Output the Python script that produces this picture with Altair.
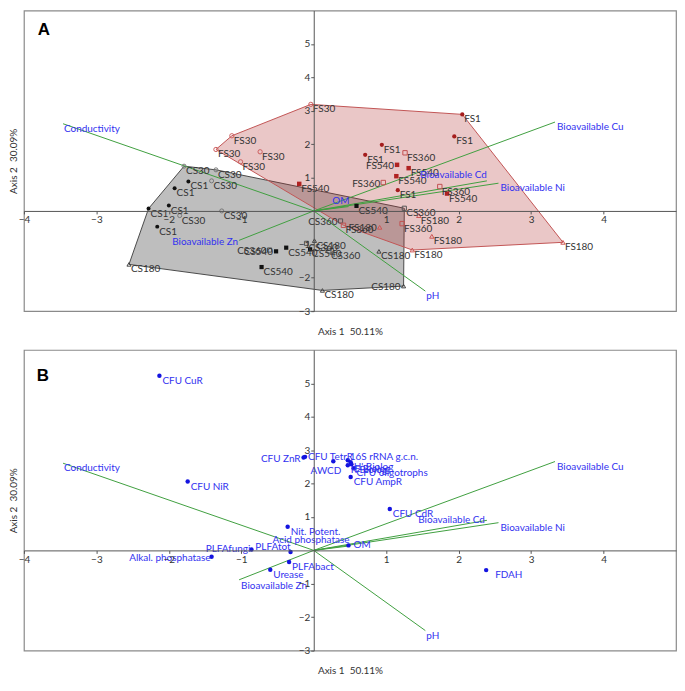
import altair as alt
import pandas as pd

# ---------------- Panel A: sample scores ----------------
CS1_X = [-1.73, -1.92, -2.00, -2.28, -2.16]
CS1_Y = [0.88, 0.68, 0.16, 0.07, -0.47]
CS30_X = [-1.79, -1.35, -1.41, -1.27, -1.85]
CS30_Y = [1.34, 1.23, 0.90, 0.00, -0.14]
CS180_X = [-2.55, 0.01, 0.90, 1.24, 0.12]
CS180_Y = [-1.60, -0.89, -1.21, -2.25, -2.38]
CS360_X = [-0.10, -0.61, 0.21, 0.37, 1.25]
CS360_Y = [-0.97, -1.17, -1.20, -0.30, 0.08]
CS540_X = [0.59, -0.38, -0.52, -0.72, -0.05]
CS540_Y = [0.15, -1.10, -1.21, -1.68, -1.15]
FS1_X = [2.05, 1.94, 0.94, 0.71, 1.16]
FS1_Y = [2.89, 2.23, 1.98, 1.68, 0.62]
FS30_X = [-0.04, -1.13, -1.35, -0.74, -1.01]
FS30_Y = [3.19, 2.25, 1.84, 1.77, 1.47]
FS180_X = [1.45, 0.91, 1.63, 1.36, 3.44]
FS180_Y = [-0.14, -0.49, -0.76, -1.17, -0.94]
FS360_X = [1.26, 0.96, 1.74, 1.22, 0.41]
FS360_Y = [1.74, 0.85, 0.73, -0.38, -0.43]
FS540_X = [1.15, 1.31, 1.14, 1.84, -0.20]
FS540_Y = [1.38, 1.28, 1.04, 0.52, 0.81]

TREATMENTS = ["CS1", "CS30", "CS180", "CS360", "CS540",
              "FS1", "FS30", "FS180", "FS360", "FS540"]
SERIES = {
    "CS1": (CS1_X, CS1_Y), "CS30": (CS30_X, CS30_Y), "CS180": (CS180_X, CS180_Y),
    "CS360": (CS360_X, CS360_Y), "CS540": (CS540_X, CS540_Y),
    "FS1": (FS1_X, FS1_Y), "FS30": (FS30_X, FS30_Y), "FS180": (FS180_X, FS180_Y),
    "FS360": (FS360_X, FS360_Y), "FS540": (FS540_X, FS540_Y),
}
# samples whose label sits left of the marker
A_LEFT_LABELS = [("CS180", 3), ("CS360", 1), ("CS360", 3), ("CS540", 2),
                 ("FS540", 0), ("FS360", 1), ("FS180", 1)]

# ---------------- Environmental vectors ----------------
VEC_NAMES = ["Conductivity", "Bioavailable Cu", "Bioavailable Cd", "Bioavailable Ni",
             "OM", "Bioavailable Zn", "pH"]
VEC_X = [-3.46, 3.33, 2.39, 2.55, 0.48, -1.03, 1.54]
VEC_Y = [2.61, 2.66, 0.90, 0.83, 0.13, -0.88, -2.40]

# ---------------- Panel B: response variables ----------------
B_NAMES = ["CFU CuR", "CFU NiR", "CFU ZnR", "CFU TetrR", "AWCD", "16S rRNA g.c.n.",
           "H' Biolog", "R Biolog", "E Biolog", "CFU oligotrophs", "CFU AmpR",
           "CFU CdR", "FDAH", "Nit. Potent.", "Acid phosphatase", "PLFAtot",
           "PLFAfungi", "Alkal. phosphatase", "PLFAbact", "Urease"]
B_X = [-2.13, -1.74, -0.14, -0.12, 0.27, 0.47, 0.51, 0.47, 0.52, 0.55, 0.51,
       1.05, 2.38, -0.36, 0.48, -0.32, -0.86, -1.41, -0.34, -0.60]
B_Y = [5.23, 2.06, 2.78, 2.80, 2.67, 2.70, 2.64, 2.55, 2.58, 2.46, 2.20,
       1.24, -0.59, 0.71, 0.15, -0.05, 0.03, -0.19, -0.35, -0.58]

X_TICKS = [-4, -3, -2, -1, 1, 2, 3, 4]
Y_TICKS = [-3, -2, -1, 1, 2, 3, 4, 5]
X_DOMAIN = [-4, 5]
Y_DOMAIN = [-3, 6]

# ---------------- styling ----------------
FONT = "Lato"
W, H = 655, 302
X0 = W * (0 - X_DOMAIN[0]) / (X_DOMAIN[1] - X_DOMAIN[0])          # px of x=0 from left
Y0_UP = H * (0 - Y_DOMAIN[0]) / (Y_DOMAIN[1] - Y_DOMAIN[0])        # px of y=0 from bottom
GREEN = "#3f9f3f"
BLUE = "#3232f0"
DOT_BLUE = "#1414e0"

SHAPES = ["circle", "circle", "triangle-up", "square", "square",
          "circle", "circle", "triangle-up", "square", "square"]
COLORS = ["#111111", "#777777", "#444444", "#555555", "#111111",
          "#a51d1d", "#cc5e5e", "#cc5555", "#c25252", "#b02222"]
SIZES = [16, 20, 22, 18, 18, 16, 20, 22, 18, 18]
FILLED = ["CS1", "CS540", "FS1", "FS540"]
OPEN = [t for t in TREATMENTS if t not in FILLED]

VEC_STYLE_A = {"Conductivity": ("left", 1, 5), "Bioavailable Cu": ("left", 2, 5),
               "Bioavailable Cd": ("right", 0, -6), "Bioavailable Ni": ("left", 2, 5),
               "OM": ("right", 1, -6), "Bioavailable Zn": ("right", -1, 2),
               "pH": ("left", 1, 5)}
VEC_STYLE_B = {"Conductivity": ("left", 1, 5), "Bioavailable Cu": ("left", 2, 5),
               "Bioavailable Cd": ("right", -2, 0), "Bioavailable Ni": ("left", 2, 5),
               "OM": ("left", 5, -1), "Bioavailable Zn": ("left", 2, 6),
               "pH": ("left", 1, 5)}
B_LABEL_DEFAULT = ("left", 3, 5)
B_LABEL_STYLE = {"CFU ZnR": ("right", -3, 1), "CFU TetrR": ("left", 3, 0),
                 "AWCD": ("right", 8, 10), "16S rRNA g.c.n.": ("left", 2, -3),
                 "FDAH": ("left", 9, 5), "Acid phosphatase": ("right", 1, -5),
                 "PLFAtot": ("right", 0, -5), "PLFAfungi": ("right", -1, 0),
                 "Alkal. phosphatase": ("right", -1, 1)}


def convex_hull(pts):
    pts = sorted(set(pts))
    def cross(o, a, b):
        return (a[0] - o[0]) * (b[1] - o[1]) - (a[1] - o[1]) * (b[0] - o[0])
    lower, upper = [], []
    for p in pts:
        while len(lower) >= 2 and cross(lower[-2], lower[-1], p) <= 0:
            lower.pop()
        lower.append(p)
    for p in reversed(pts):
        while len(upper) >= 2 and cross(upper[-2], upper[-1], p) <= 0:
            upper.pop()
        upper.append(p)
    return lower[:-1] + upper[:-1]


X_AXIS = alt.Axis(values=X_TICKS, offset=-Y0_UP, grid=False,
                  title="Axis 1\u00a0 50.11%", titleX=W / 2, titleY=Y0_UP + 20,
                  titleBaseline="middle", titleAlign="center", titleFontWeight="normal",
                  titleFontSize=10, titleColor="#333333", titleFont=FONT,
                  labelFlush=False, labelOverlap=False, labelFontSize=10, labelFont=FONT,
                  labelColor="#333333", labelPadding=1, tickSize=3, tickColor="#555555",
                  domainColor="#555555", zindex=1)
Y_AXIS = alt.Axis(values=Y_TICKS, offset=-X0, grid=False,
                  title="Axis 2\u00a0 30.09%", titleX=-X0 - 10, titleY=H / 2, titleAngle=270,
                  titleBaseline="middle", titleAlign="center", titleFontWeight="normal",
                  titleFontSize=10, titleColor="#333333", titleFont=FONT,
                  labelFlush=False, labelOverlap=False, labelFontSize=10, labelFont=FONT,
                  labelColor="#333333", labelPadding=1, tickSize=3, tickColor="#555555",
                  domainColor="#555555", minExtent=0, zindex=1)
XS = alt.Scale(domain=X_DOMAIN, nice=False, zero=False)
YS = alt.Scale(domain=Y_DOMAIN, nice=False, zero=False)


def X(f="x"):
    return alt.X(f"{f}:Q", scale=XS, axis=X_AXIS)


def Y(f="y"):
    return alt.Y(f"{f}:Q", scale=YS, axis=Y_AXIS)


def styled_text_layers(df, key, styles, default, color, size=10):
    groups = {}
    for k in df[key]:
        groups.setdefault(styles.get(k, default), []).append(k)
    layers = []
    for (align, dx, dy), keys in groups.items():
        layers.append(
            alt.Chart(df).transform_filter(alt.FieldOneOfPredicate(field=key, oneOf=keys))
            .mark_text(align=align, baseline="middle", dx=dx, dy=dy, font=FONT,
                       fontSize=size, color=color)
            .encode(x=X(), y=Y(), text="label:N")
        )
    return layers


def vector_layers(styles):
    vdf = pd.DataFrame({"label": VEC_NAMES, "x": VEC_X, "y": VEC_Y,
                        "x0": [0.0] * len(VEC_X), "y0": [0.0] * len(VEC_Y)})
    rules = alt.Chart(vdf).mark_rule(color=GREEN, strokeWidth=1).encode(
        x=X("x0"), y=Y("y0"), x2="x:Q", y2="y:Q")
    texts = styled_text_layers(vdf, "label", styles, ("left", 2, 5), BLUE)
    return [rules], texts


def letter(t, px, py):
    return alt.Chart(pd.DataFrame({"t": [t]})).mark_text(
        font="Liberation Sans", fontSize=17, fontWeight="bold", color="#000000",
        align="center", baseline="middle").encode(x=alt.value(px), y=alt.value(py), text="t:N")


# ---------- Panel A ----------
rows = []
for t in TREATMENTS:
    xs, ys = SERIES[t]
    for i, (a, b) in enumerate(zip(xs, ys)):
        rows.append({"label": t, "trt": t, "grp": t[:2], "x": a, "y": b,
                     "side": "L" if (t, i) in A_LEFT_LABELS else "R"})
dfA = pd.DataFrame(rows)

hull_layers = []
for grp, fill, fop, stroke in [("CS", "#505050", 0.37, "#4a4a4a"),
                                ("FS", "#b03030", 0.27, "#c25555")]:
    sub = dfA[dfA.grp == grp]
    hp = convex_hull(list(zip(sub.x, sub.y)))
    hdf = pd.DataFrame({"x": [p[0] for p in hp], "y": [p[1] for p in hp],
                        "o": list(range(len(hp)))})
    hull_layers.append(
        alt.Chart(hdf).mark_line(interpolate="linear-closed", fill=fill, fillOpacity=fop,
                                 stroke=stroke, strokeWidth=1)
        .encode(x=X(), y=Y(), order="o:Q"))

shape_enc = alt.Shape("trt:N", scale=alt.Scale(domain=TREATMENTS, range=SHAPES), legend=None)
color_enc = alt.Color("trt:N", scale=alt.Scale(domain=TREATMENTS, range=COLORS), legend=None)
size_enc = alt.Size("trt:N", scale=alt.Scale(domain=TREATMENTS, range=SIZES), legend=None)

open_pts = alt.Chart(dfA).transform_filter(
    alt.FieldOneOfPredicate(field="trt", oneOf=OPEN)).mark_point(
    filled=False, strokeWidth=1, opacity=1).encode(
    x=X(), y=Y(), shape=shape_enc, color=color_enc, size=size_enc)
filled_pts = alt.Chart(dfA).transform_filter(
    alt.FieldOneOfPredicate(field="trt", oneOf=FILLED)).mark_point(
    filled=True, opacity=1).encode(
    x=X(), y=Y(), shape=shape_enc, color=color_enc, size=size_enc)

lab_r = alt.Chart(dfA).transform_filter(alt.datum.side == "R").mark_text(
    align="left", baseline="middle", dx=2, dy=5, font=FONT, fontSize=10,
    color="#333333").encode(x=X(), y=Y(), text="label:N")
lab_l = alt.Chart(dfA).transform_filter(alt.datum.side == "L").mark_text(
    align="right", baseline="middle", dx=-3, dy=1, font=FONT, fontSize=10,
    color="#333333").encode(x=X(), y=Y(), text="label:N")

vr_a, vt_a = vector_layers(VEC_STYLE_A)
panelA = alt.layer(*hull_layers, *vr_a, open_pts, filled_pts, lab_r, lab_l, *vt_a,
                   letter("A", 20, 20)).properties(width=W, height=H)

# ---------- Panel B ----------
dfB = pd.DataFrame({"label": B_NAMES, "x": B_X, "y": B_Y})
dots = alt.Chart(dfB).mark_circle(size=20, color=DOT_BLUE, opacity=1).encode(x=X(), y=Y())
b_texts = styled_text_layers(dfB, "label", B_LABEL_STYLE, B_LABEL_DEFAULT, BLUE)
vr_b, vt_b = vector_layers(VEC_STYLE_B)
panelB = alt.layer(*vr_b, dots, *b_texts, *vt_b,
                   letter("B", 19, 26)).properties(width=W, height=H)

chart = alt.vconcat(panelA, panelB, spacing=12).properties(
    padding={"left": 0, "top": 0, "right": 0, "bottom": 0}
).configure_view(stroke="#8a8a8a", strokeWidth=1.2)

chart.save("out.html", embed_options={"renderer": "svg", "actions": False})
